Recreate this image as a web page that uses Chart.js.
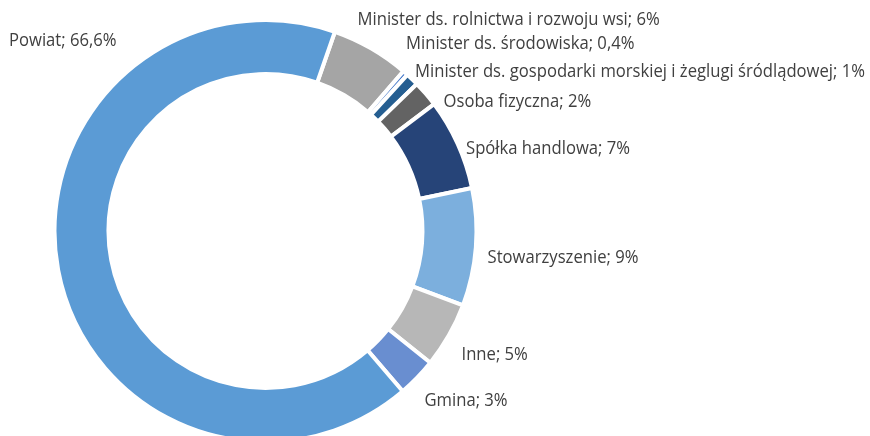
<!DOCTYPE html>
<html>
<head>
<meta charset="utf-8">
<script src="https://cdn.jsdelivr.net/npm/chart.js@4/dist/chart.umd.min.js"></script>
<style>
  html, body { margin: 0; padding: 0; background: #ffffff; overflow: hidden; width: 870px; height: 436px; }
  #wrap { position: absolute; left: 0; top: 0; width: 870px; height: 444px; }
</style>
</head>
<body>
<div id="wrap"><canvas id="c"></canvas></div>
<script>
// ---- data ----
const categories = [
  "Minister ds. rolnictwa i rozwoju wsi",
  "Minister ds. środowiska",
  "Minister ds. gospodarki morskiej i żeglugi śródlądowej",
  "Osoba fizyczna",
  "Spółka handlowa",
  "Stowarzyszenie",
  "Inne",
  "Gmina",
  "Powiat"
];
const shares = [6, 0.4, 1, 2, 7, 9, 5, 3, 66.6];
const sliceColors = ["#A5A5A5", "#4A7CCB", "#255E91", "#636363", "#264478", "#7CAFDD", "#B7B7B7", "#698ED0", "#5B9BD5"];

// ---- label layout (text anchor offsets from ring centre: left x, baseline y) ----
const labelOffsets = [
  [92, -206], [140.5, -182], [149.5, -154], [178, -124], [200.5, -77.5],
  [222, 31.5], [196, 129], [159, 175], [-256.5, -185]
];

function fmt(v) { return String(v).replace('.', ',') + '%'; }

const labelPlugin = {
  id: 'sliceLabels',
  afterDatasetsDraw(chart) {
    const ctx = chart.ctx;
    const meta = chart.getDatasetMeta(0);
    const arc0 = meta.data[0];
    const cx = arc0.x, cy = arc0.y;
    ctx.save();
    ctx.font = '18px "Open Sans"';
    ctx.fillStyle = '#404040';
    ctx.textBaseline = 'alphabetic';
    ctx.textAlign = 'left';
    // horizontal condense factor to mimic the narrower original face
    const longText = categories[2] + '; ' + fmt(shares[2]);
    const sx = 450 / ctx.measureText(longText).width;
    categories.forEach((cat, i) => {
      const t = cat + '; ' + fmt(shares[i]);
      const [dx, dy] = labelOffsets[i];
      ctx.save();
      ctx.translate(cx + dx, cy + dy);
      ctx.scale(sx, 1);
      ctx.fillText(t, 0, 0);
      ctx.restore();
    });
    ctx.restore();
  }
};

new Chart(document.getElementById('c'), {
  type: 'doughnut',
  data: {
    labels: categories,
    datasets: [{
      data: shares,
      backgroundColor: sliceColors,
      borderColor: '#ffffff',
      borderWidth: 4
    }]
  },
  options: {
    responsive: true,
    maintainAspectRatio: false,
    animation: false,
    rotation: 19.2,
    cutout: '74.4%',
    layout: { padding: { top: 18, left: 52.5, right: 391.5, bottom: 0 } },
    plugins: {
      legend: { display: false },
      tooltip: { enabled: false },
      title: { display: false }
    }
  },
  plugins: [labelPlugin]
});
</script>
</body>
</html>
